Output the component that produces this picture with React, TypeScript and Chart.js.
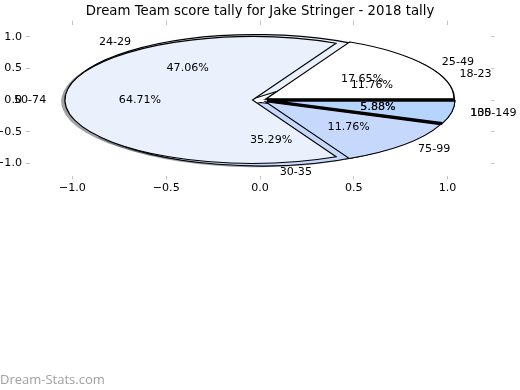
import React, { useEffect, useRef } from "react";
import { Chart, registerables } from "chart.js";

Chart.register(...registerables);

// ---- data ----
const chartTitle = "Dream Team score tally for Jake Stringer - 2018 tally";
const watermark = "Dream-Stats.com";

// first (under) pie
const ageLabels = ["18-23", "24-29", "30-35", "135"];
const ageValues = [11.76, 47.06, 35.29, 5.88];

// second (top) pie
const scoreLabels = ["25-49", "50-74", "75-99", "100-149"];
const scoreValues = [17.65, 64.71, 11.76, 5.88];

const xTicks = [-1.0, -0.5, 0.0, 0.5, 1.0];
const yTicks = [-1.0, -0.5, 0.0, 0.5, 1.0];

// ---- styles ----
const sliceColors = ["#ffffff", "#eaf1fd", "#c6d9fd", "#b5d5ff"];
const thickEdge = [false, false, false, true];
const EXPLODE = 0.04;
const XLIM = 1.229;
const YLIM = 1.19;
const FONT = "DejaVu Sans";

type Wedge = {
  t1: number;
  t2: number;
  cx: number;
  cy: number;
  mid: number;
  color: string;
  label: string;
  pct: string;
  thick: boolean;
};

function buildWedges(values: number[], labels: string[]): Wedge[] {
  const total = values.reduce((a, b) => a + b, 0);
  let start = 0;
  return values.map((v, i) => {
    const t1 = start;
    const t2 = start + (360 * v) / total;
    start = t2;
    const mid = ((t1 + t2) / 2) * (Math.PI / 180);
    return {
      t1: (t1 * Math.PI) / 180,
      t2: (t2 * Math.PI) / 180,
      cx: EXPLODE * Math.cos(mid),
      cy: EXPLODE * Math.sin(mid),
      mid,
      color: sliceColors[i % sliceColors.length],
      label: labels[i],
      pct: ((100 * v) / total).toFixed(2) + "%",
      thick: thickEdge[i],
    };
  });
}

function hexToRgb(h: string) {
  const n = parseInt(h.slice(1), 16);
  return [(n >> 16) & 255, (n >> 8) & 255, n & 255];
}

const fmt = (v: number) => (v < 0 ? "\u2212" : "") + Math.abs(v).toFixed(1);

const piePlugin = {
  id: "ellipsePies",
  afterDatasetsDraw(chart: any) {
    const ctx: CanvasRenderingContext2D = chart.ctx;
    const xs = chart.scales.x;
    const ys = chart.scales.y;
    const X = (v: number) => xs.getPixelForValue(v);
    const Y = (v: number) => ys.getPixelForValue(v);
    const rx = X(1) - X(0);
    const ry = Y(0) - Y(1);
    const pies = [buildWedges(ageValues, ageLabels), buildWedges(scoreValues, scoreLabels)];

    const path = (w: Wedge, ox: number, oy: number) => {
      const px = X(w.cx + ox);
      const py = Y(w.cy + oy);
      ctx.beginPath();
      ctx.moveTo(px, py);
      ctx.ellipse(px, py, rx, ry, 0, -w.t1, -w.t2, true);
      ctx.closePath();
    };

    ctx.save();
    // shadows (all below all wedges)
    pies.forEach((p) =>
      p.forEach((w) => {
        const [r, g, b] = hexToRgb(w.color);
        path(w, -0.02, -0.02);
        ctx.fillStyle = `rgba(${Math.round(r * 0.3)},${Math.round(g * 0.3)},${Math.round(b * 0.3)},0.5)`;
        ctx.fill();
      })
    );
    // wedges
    pies.forEach((p) =>
      p.forEach((w) => {
        path(w, 0, 0);
        ctx.fillStyle = w.color;
        ctx.fill();
        ctx.strokeStyle = "#000";
        ctx.lineWidth = 1.1;
        ctx.lineJoin = "miter";
        ctx.stroke();
        if (w.thick) {
          const px = X(w.cx);
          const py = Y(w.cy);
          ctx.beginPath();
          ctx.moveTo(px, py);
          ctx.lineTo(X(w.cx + Math.cos(w.t1)), Y(w.cy + Math.sin(w.t1)));
          ctx.moveTo(px, py);
          ctx.lineTo(X(w.cx + Math.cos(w.t2)), Y(w.cy + Math.sin(w.t2)));
          ctx.lineWidth = 2.6;
          ctx.stroke();
        }
      })
    );
    // texts
    ctx.fillStyle = "#000";
    ctx.font = `11.1px "${FONT}"`;
    ctx.textBaseline = "middle";
    pies.forEach((p) =>
      p.forEach((w) => {
        const lx = w.cx + 1.1 * Math.cos(w.mid);
        const ly = w.cy + 1.1 * Math.sin(w.mid);
        ctx.textAlign = lx > 0 ? "left" : "right";
        ctx.fillText(w.label, X(lx), Y(ly));
        const tx = w.cx + 0.6 * Math.cos(w.mid);
        const ty = w.cy + 0.6 * Math.sin(w.mid);
        ctx.textAlign = "center";
        ctx.fillText(w.pct, X(tx), Y(ty));
      })
    );
    ctx.restore();
  },
  afterDraw(chart: any) {
    const ctx: CanvasRenderingContext2D = chart.ctx;
    ctx.save();
    ctx.font = `13px "Open Sans"`;
    ctx.fillStyle = "#a0a0a0";
    ctx.textAlign = "left";
    ctx.textBaseline = "middle";
    ctx.fillText(watermark, 0, 380);
    ctx.restore();
  },
};

const tickFont = { family: FONT, size: 11.1 };
const gridOpts = {
  drawOnChartArea: false,
  drawTicks: true,
  tickLength: 4,
  tickColor: "#c4c4c4",
  color: "#c4c4c4",
};

export default function App() {
  const ref = useRef<HTMLCanvasElement | null>(null);
  useEffect(() => {
    document.body.style.margin = "0";
    if (!ref.current) return;
    Chart.defaults.font.family = FONT;
    const chart = new Chart(ref.current, {
      type: "scatter",
      data: { datasets: [{ data: [], pointRadius: 0 }] },
      options: {
        animation: false,
        responsive: false,
        devicePixelRatio: 1,
        events: [],
        layout: { padding: { left: 0, right: 0, top: 0, bottom: 184.5 } },
        plugins: {
          legend: { display: false },
          tooltip: { enabled: false },
          title: {
            display: true,
            text: chartTitle,
            color: "#000",
            font: { family: FONT, size: 13.3, weight: "normal" },
            padding: { top: 3.5, bottom: 1.1 },
          },
        },
        scales: {
          x: {
            type: "linear",
            position: "bottom",
            min: -XLIM,
            max: XLIM,
            border: { display: false },
            grid: gridOpts,
            afterBuildTicks: (s: any) => {
              s.ticks = xTicks.map((v) => ({ value: v }));
            },
            afterFit: (s: any) => {
              s.height = 30;
            },
            ticks: {
              color: "#000",
              font: tickFont,
              padding: 1.5,
              maxRotation: 0,
              autoSkip: false,
              callback: (v: any) => fmt(Number(v)),
            },
          },
          x2: {
            type: "linear",
            axis: "x",
            position: "top",
            min: -XLIM,
            max: XLIM,
            border: { display: false },
            grid: gridOpts,
            afterBuildTicks: (s: any) => {
              s.ticks = xTicks.map((v) => ({ value: v }));
            },
            afterFit: (s: any) => {
              s.height = 4;
            },
            ticks: { display: false },
          },
          y: {
            type: "linear",
            position: "left",
            min: -YLIM,
            max: YLIM,
            border: { display: false },
            grid: gridOpts,
            afterBuildTicks: (s: any) => {
              s.ticks = yTicks.map((v) => ({ value: v }));
            },
            afterFit: (s: any) => {
              s.width = 29.5;
            },
            ticks: {
              color: "#000",
              font: tickFont,
              padding: 3.5,
              autoSkip: false,
              callback: (v: any) => fmt(Number(v)),
            },
          },
          y2: {
            type: "linear",
            axis: "y",
            position: "right",
            min: -YLIM,
            max: YLIM,
            border: { display: false },
            grid: gridOpts,
            afterBuildTicks: (s: any) => {
              s.ticks = yTicks.map((v) => ({ value: v }));
            },
            afterFit: (s: any) => {
              s.width = 29.5;
            },
            ticks: { display: false },
          },
        },
      } as any,
      plugins: [piePlugin],
    });
    return () => chart.destroy();
  }, []);
  return (
    <div style={{ width: 520, height: 390 }}>
      <canvas ref={ref} width={520} height={390} style={{ display: "block" }} />
    </div>
  );
}
